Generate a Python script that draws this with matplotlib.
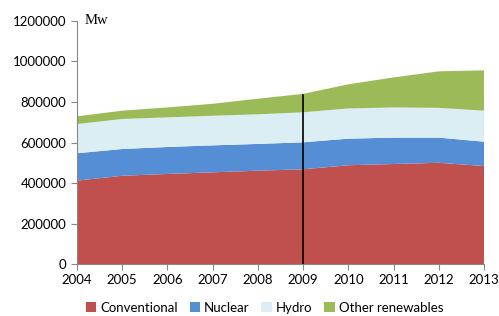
import numpy as np
import matplotlib
matplotlib.use("Agg")
import matplotlib.pyplot as plt
from matplotlib.patches import Patch

years = [2004, 2005, 2006, 2007, 2008, 2009, 2010, 2011, 2012, 2013]
conventional = [412000, 436000, 445000, 453000, 461000, 468000, 488000, 494000, 500000, 484000]
nuclear = [135000, 132000, 133000, 133000, 132000, 133000, 131000, 130000, 124000, 120000]
hydro = [144000, 148000, 146000, 146000, 146000, 148000, 149000, 149000, 147000, 153000]
other = [38000, 41000, 49000, 59000, 77000, 91000, 119000, 148000, 180000, 199000]
labels = ["Conventional", "Nuclear", "Hydro", "Other renewables"]
colors = ["#C0504D", "#558ED5", "#DBEEF4", "#9BBB59"]
yticks = [0, 200000, 400000, 600000, 800000, 1000000, 1200000]

plt.rcParams['font.family'] = ['Lato', 'DejaVu Sans']

fig = plt.figure(figsize=(4.99, 3.16), dpi=100)
ax = fig.add_axes([0.154, 0.164, 0.816, 0.77])

ax.stackplot(years, conventional, nuclear, hydro, other, colors=colors, linewidth=0)

# marker line at 2009
total_2009 = conventional[5] + nuclear[5] + hydro[5] + other[5]
ax.plot([2009, 2009], [0, total_2009 - 6000], color='black', linewidth=1.2)

ax.set_xlim(2004, 2013)
ax.set_ylim(0, 1200000)
ax.set_xticks(years)
ax.set_yticks(yticks)
ax.set_yticklabels([str(v) for v in yticks])
ax.tick_params(axis='both', labelsize=9.5, color='#888888', length=4, direction='out')
ax.tick_params(axis='x', pad=3)
for s in ['top', 'right']:
    ax.spines[s].set_visible(False)
for s in ['left', 'bottom']:
    ax.spines[s].set_color('#888888')
    ax.spines[s].set_linewidth(0.8)

ax.text(0.02, 1.0, "Mw", transform=ax.transAxes, fontsize=10.5,
        family=['Liberation Serif'], va='center', ha='left')

handles = [Patch(facecolor=c, edgecolor='none') for c in colors]
fig.legend(handles, labels, loc='lower center', bbox_to_anchor=(0.53, -0.03), ncol=4,
           frameon=False, fontsize=9.5, handlelength=0.8, handleheight=0.8,
           handletextpad=0.3, columnspacing=0.9)

fig.savefig("out.png", dpi=100)
